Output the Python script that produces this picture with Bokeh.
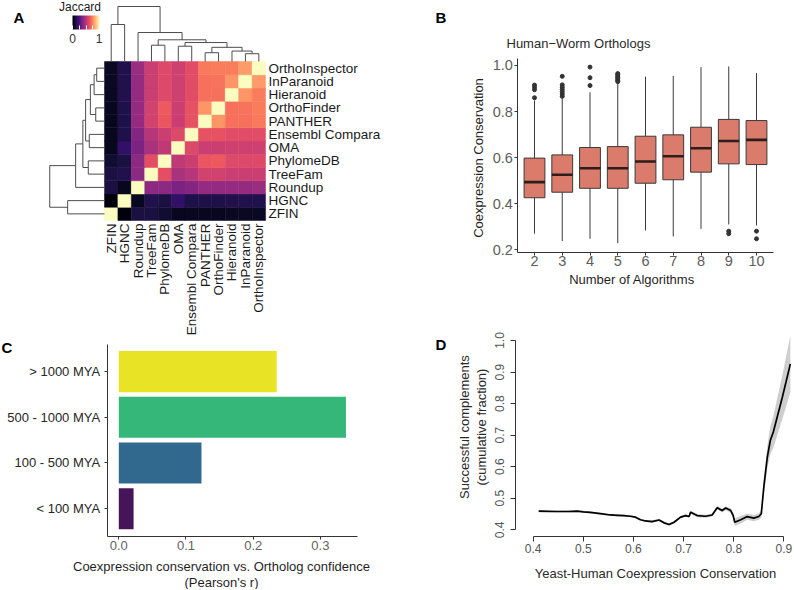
import numpy as np
from bokeh.plotting import figure
from bokeh.layouts import row, column
from bokeh.models import (Range1d, FixedTicker, ColorBar, LinearColorMapper, Label,
                          ColumnDataSource, PrintfTickFormatter)
from bokeh.palettes import Magma256
from bokeh.embed import file_html
from bokeh.resources import INLINE

FONT = "Liberation Sans"

# ---------------- Panel A data ----------------
methods = ["ZFIN", "HGNC", "Roundup", "TreeFam", "PhylomeDB", "OMA", "Ensembl Compara",
           "PANTHER", "OrthoFinder", "Hieranoid", "InParanoid", "OrthoInspector"]
jaccard = [
    [1.00, 0.02, 0.12, 0.12, 0.09, 0.06, 0.06, 0.06, 0.06, 0.07, 0.07, 0.07],
    [0.02, 1.00, 0.06, 0.14, 0.12, 0.18, 0.13, 0.13, 0.13, 0.14, 0.14, 0.14],
    [0.12, 0.06, 1.00, 0.40, 0.40, 0.36, 0.38, 0.42, 0.42, 0.42, 0.42, 0.43],
    [0.12, 0.14, 0.40, 1.00, 0.62, 0.47, 0.50, 0.57, 0.57, 0.55, 0.55, 0.55],
    [0.09, 0.12, 0.40, 0.62, 1.00, 0.52, 0.55, 0.64, 0.65, 0.60, 0.60, 0.60],
    [0.06, 0.18, 0.36, 0.47, 0.52, 1.00, 0.60, 0.55, 0.55, 0.56, 0.56, 0.56],
    [0.06, 0.13, 0.38, 0.50, 0.55, 0.60, 1.00, 0.63, 0.63, 0.61, 0.61, 0.61],
    [0.06, 0.13, 0.42, 0.57, 0.64, 0.55, 0.63, 1.00, 0.78, 0.70, 0.70, 0.72],
    [0.06, 0.13, 0.42, 0.57, 0.65, 0.55, 0.63, 0.78, 1.00, 0.70, 0.71, 0.73],
    [0.07, 0.14, 0.42, 0.55, 0.60, 0.56, 0.61, 0.70, 0.70, 1.00, 0.78, 0.73],
    [0.07, 0.14, 0.42, 0.55, 0.60, 0.56, 0.61, 0.70, 0.71, 0.78, 1.00, 0.79],
    [0.07, 0.14, 0.43, 0.55, 0.60, 0.56, 0.61, 0.72, 0.73, 0.73, 0.79, 1.00],
]
# hierarchical clustering merges: (child a, child b, relative height)
merges = [(10, 11, 0.142), (9, 12, 0.190), (7, 8, 0.160), (14, 13, 0.258),
          (5, 6, 0.278), (3, 4, 0.296), (16, 15, 0.345), (17, 18, 0.395),
          (2, 19, 0.527), (0, 1, 0.673), (21, 20, 1.000)]

# ---------------- Panel B data ----------------
b_alg = [2, 3, 4, 5, 6, 7, 8, 9, 10]
b_q1 = [0.426, 0.450, 0.467, 0.467, 0.489, 0.504, 0.537, 0.573, 0.570]
b_med = [0.494, 0.526, 0.554, 0.554, 0.583, 0.606, 0.641, 0.672, 0.677]
b_q3 = [0.598, 0.612, 0.644, 0.648, 0.693, 0.699, 0.732, 0.766, 0.761]
b_lo = [0.270, 0.238, 0.248, 0.229, 0.284, 0.258, 0.291, 0.310, 0.306]
b_hi = [0.848, 0.858, 0.884, 0.928, 0.952, 0.955, 0.993, 0.996, 0.967]
b_out_alg = [2, 2, 2, 2, 3, 3, 3, 3, 3, 3, 3, 4, 4, 4,
             5, 5, 5, 5, 5, 5, 5, 9, 9, 10, 10]
b_out_val = [0.860, 0.895, 0.905, 0.915, 0.866, 0.876, 0.886, 0.896, 0.906, 0.916, 0.953,
             0.913, 0.947, 0.993,
             0.930, 0.936, 0.942, 0.948, 0.954, 0.960, 0.965, 0.270, 0.281, 0.248, 0.281]

# ---------------- Panel C data ----------------
age_groups = ["< 100 MYA", "100 - 500 MYA", "500 - 1000 MYA", "> 1000 MYA"]
age_corr = [0.022, 0.123, 0.338, 0.235]
age_colors = ["#461558", "#31688E", "#35B779", "#E8E325"]

# ---------------- Panel D data ----------------
d_x = [0.411, 0.445, 0.470, 0.488, 0.500, 0.514, 0.534, 0.554, 0.568, 0.581, 0.594, 0.604,
       0.614, 0.624, 0.637, 0.651, 0.661, 0.671, 0.681, 0.694, 0.704, 0.711, 0.714, 0.727,
       0.744, 0.757, 0.767, 0.777, 0.784, 0.794, 0.799, 0.802, 0.814, 0.827, 0.840, 0.850,
       0.855, 0.860, 0.867, 0.873, 0.879, 0.897, 0.913]
d_y = [0.459, 0.458, 0.458, 0.459, 0.457, 0.455, 0.451, 0.447, 0.446, 0.445, 0.443, 0.440,
       0.432, 0.428, 0.426, 0.431, 0.422, 0.417, 0.424, 0.440, 0.445, 0.442, 0.456, 0.445,
       0.443, 0.447, 0.470, 0.461, 0.469, 0.461, 0.445, 0.424, 0.432, 0.442, 0.437, 0.442,
       0.451, 0.535, 0.630, 0.683, 0.710, 0.820, 0.926]
d_band = [0.004, 0.003, 0.003, 0.003, 0.003, 0.003, 0.003, 0.003, 0.003, 0.003, 0.003, 0.003,
          0.003, 0.003, 0.004, 0.004, 0.004, 0.004, 0.004, 0.004, 0.004, 0.004, 0.005, 0.005,
          0.005, 0.005, 0.006, 0.006, 0.006, 0.007, 0.008, 0.012, 0.012, 0.010, 0.010, 0.010,
          0.012, 0.025, 0.035, 0.045, 0.050, 0.070, 0.090]


def make_fig(w, h, xr, yr, xloc="below", yloc="left"):
    p = figure(width=w, height=h, x_range=Range1d(*xr), y_range=Range1d(*yr),
               min_border=0, min_border_left=0, min_border_right=0, min_border_top=0,
               min_border_bottom=0, x_axis_location=xloc, y_axis_location=yloc,
               output_backend="svg", toolbar_location=None)
    p.grid.visible = False
    p.outline_line_color = None
    p.background_fill_color = "white"
    p.border_fill_color = "white"
    return p


def style_axis(ax, size, color, tick_out, standoff, line_color="#333333"):
    ax.axis_line_color = line_color
    ax.major_tick_line_color = line_color
    ax.minor_tick_line_color = None
    ax.major_tick_in = 0
    ax.major_tick_out = tick_out
    ax.major_label_text_font = FONT
    ax.major_label_text_font_size = size
    ax.major_label_text_color = color
    ax.major_label_standoff = standoff


def text(p, sx, sy, t, size="13px", color="#222222", align="left", baseline="middle",
         angle=0.0, bold=False):
    p.add_layout(Label(x=sx, y=sy, x_units="screen", y_units="screen", text=t,
                       angle=angle, text_font=FONT, text_font_size=size,
                       text_font_style="bold" if bold else "normal", text_color=color,
                       text_align=align, text_baseline=baseline))


# =============== Panel A  (page box x 0..400, y 0..337) ===============
n = len(methods)
mapper = LinearColorMapper(palette=Magma256, low=0, high=1)
cx, cy, cv = [], [], []
for i in range(n):
    for j in range(n):
        cx.append(j + 0.5)
        cy.append(i + 0.5)
        cv.append(jaccard[i][j])
srcA = ColumnDataSource(dict(x=cx, y=cy, v=cv))

pA = make_fig(400, 337, (-7.7496, 22.0566), (-8.830, 16.604), "below", "right")
pA.rect(x="x", y="y", width=1, height=1, source=srcA,
        fill_color={"field": "v", "transform": mapper},
        line_color={"field": "v", "transform": mapper}, line_width=0.5)

pos = {i: i + 0.5 for i in range(n)}
hgt = {i: 0.0 for i in range(n)}
segs = []
for k, (a, b, h) in enumerate(merges):
    segs.append((pos[a], hgt[a], pos[a], h))
    segs.append((pos[b], hgt[b], pos[b], h))
    segs.append((pos[a], h, pos[b], h))
    pos[n + k] = (pos[a] + pos[b]) / 2
    hgt[n + k] = h
TOP_DEPTH = 4.15
LEFT_DEPTH = 4.08
pA.multi_line(xs=[[s[0], s[2]] for s in segs],
              ys=[[n + s[1] * TOP_DEPTH, n + s[3] * TOP_DEPTH] for s in segs],
              line_color="#4d4d4d", line_width=1)
pA.multi_line(xs=[[-s[1] * LEFT_DEPTH, -s[3] * LEFT_DEPTH] for s in segs],
              ys=[[s[0], s[2]] for s in segs],
              line_color="#4d4d4d", line_width=1)

ticks = [i + 0.5 for i in range(n)]
for ax in (pA.xaxis[0], pA.yaxis[0]):
    ax.ticker = FixedTicker(ticks=ticks)
    ax.major_label_overrides = {t: m for t, m in zip(ticks, methods)}
    style_axis(ax, "13.5px", "#1a1a1a", 0, 3, line_color=None)
    ax.bounds = (0, n)
pA.xaxis.fixed_location = 0
pA.yaxis.fixed_location = n
pA.xaxis.major_label_orientation = np.pi / 2

cbar = ColorBar(color_mapper=mapper, orientation="horizontal", width=27, height=14,
                ticker=FixedTicker(ticks=[0, 0.25, 0.5, 0.75, 1]),
                major_label_overrides={0: "", 0.25: "", 0.5: "", 0.75: "", 1: ""},
                major_label_text_font_size="1px",
                major_tick_line_color="white", major_tick_in=4, major_tick_out=0,
                minor_tick_line_color=None, bar_line_color=None, border_line_color=None,
                background_fill_alpha=0, padding=0, margin=0, label_standoff=0,
                location=(72, 308))
pA.add_layout(cbar)
text(pA, 79.5, 330.3, "Jaccard", size="12px", color="#1a1a1a", align="center")
text(pA, 72, 299.5, "0", size="12px", color="#333333", align="center")
text(pA, 98.5, 299.5, "1", size="12px", color="#333333", align="center")
text(pA, 13, 329, "A", size="15px", color="black", baseline="top", bold=True)

# =============== Panel B  (page box x 400..793, y 0..300) ===============
pB = make_fig(393, 300, (-2.8288, 11.3333), (-0.0200, 1.2821))
alg = np.array(b_alg, dtype=float)
pB.segment(x0=alg, y0=b_q3, x1=alg, y1=b_hi, line_color="#3a3a3a", line_width=1)
pB.segment(x0=alg, y0=b_q1, x1=alg, y1=b_lo, line_color="#3a3a3a", line_width=1)
pB.vbar(x=alg, width=0.75, bottom=b_q1, top=b_q3, fill_color="#DA7B6B",
        line_color="#3a3a3a", line_width=1)
pB.segment(x0=alg - 0.375, y0=b_med, x1=alg + 0.375, y1=b_med, line_color="#2e1d1a",
           line_width=2.6)
pB.scatter(x=b_out_alg, y=b_out_val, size=4, fill_color="#333333", line_color="#333333")

pB.xaxis.ticker = FixedTicker(ticks=b_alg)
pB.yaxis.ticker = FixedTicker(ticks=[0.2, 0.4, 0.6, 0.8, 1.0])
pB.yaxis.formatter = PrintfTickFormatter(format="%.1f")
style_axis(pB.xaxis[0], "14.5px", "#5c5c5c", 3, 1)
style_axis(pB.yaxis[0], "14.5px", "#5c5c5c", 3, 2)
pB.xaxis.fixed_location = 0.1896
pB.yaxis.fixed_location = 1.4
pB.xaxis.bounds = (1.4, 10.6)
pB.yaxis.bounds = (0.1896, 1.030)
text(pB, 106, 257.5, "Human\u2212Worm Orthologs", color="#2a2a2a")
text(pB, 35, 292, "B", size="15px", color="black", baseline="top", bold=True)
text(pB, 231.5, 21, "Number of Algorithms", color="#1f1f1f", align="center")
text(pB, 77.5, 142.5, "Coexpression Conservation", color="#1f1f1f", align="center",
     angle=np.pi / 2)

# =============== Panel C  (page box x 0..400, y 337..589) ===============
pC = make_fig(400, 252, (-0.17604, 0.41920), (-0.768, 4.746))
ypos = list(range(1, len(age_groups) + 1))
pC.hbar(y=ypos, left=0, right=age_corr, height=0.9, fill_color=age_colors, line_color=None)
pC.yaxis.ticker = FixedTicker(ticks=ypos)
pC.yaxis.major_label_overrides = {k: g for k, g in zip(ypos, age_groups)}
pC.xaxis.ticker = FixedTicker(ticks=[0.0, 0.1, 0.2, 0.3])
pC.xaxis.formatter = PrintfTickFormatter(format="%.1f")
style_axis(pC.yaxis[0], "13px", "#262626", 3, 4)
style_axis(pC.xaxis[0], "13px", "#636363", 3, 2)
pC.yaxis.fixed_location = -0.0173
pC.xaxis.fixed_location = 0.4
pC.yaxis.bounds = (0.4, 4.6)
pC.xaxis.bounds = (-0.0173, 0.3548)
text(pC, 221, 23, "Coexpression conservation vs. Ortholog confidence", color="#1f1f1f",
     align="center")
text(pC, 221, 7.5, "(Pearson's r)", color="#1f1f1f", align="center")
text(pC, 1, 251, "C", size="15px", color="black", baseline="top", bold=True)

# =============== Panel D  (page box x 400..793, y 300..589) ===============
pD = make_fig(393, 289, (0.13529, 0.91925), (0.21078, 1.12678))
dy = np.array(d_y)
db = np.array(d_band)
pD.varea(x=d_x, y1=dy - db, y2=dy + db, fill_color="#C9C9C9", fill_alpha=0.9)
pD.line(x=d_x, y=d_y, line_color="black", line_width=1.7)
pD.xaxis.ticker = FixedTicker(ticks=[0.4, 0.5, 0.6, 0.7, 0.8, 0.9])
pD.yaxis.ticker = FixedTicker(ticks=[0.4, 0.5, 0.6, 0.7, 0.8, 0.9, 1.0])
pD.xaxis.formatter = PrintfTickFormatter(format="%.1f")
pD.yaxis.formatter = PrintfTickFormatter(format="%.1f")
style_axis(pD.xaxis[0], "12px", "#555555", 5, 3)
style_axis(pD.yaxis[0], "12px", "#555555", 5, 6)
pD.yaxis.major_label_orientation = "parallel"
pD.xaxis.fixed_location = 0.37971
pD.yaxis.fixed_location = 0.36469
pD.xaxis.bounds = (0.4, 0.9)
pD.yaxis.bounds = (0.4, 1.0)
text(pD, 255, 16, "Yeast-Human Coexpression Conservation", color="#2a2a2a", align="center")
text(pD, 64, 162.4, "Successful complements", color="#2a2a2a", align="center",
     angle=np.pi / 2)
text(pD, 81, 162.4, "(cumulative fraction)", color="#2a2a2a", align="center",
     angle=np.pi / 2)
text(pD, 35, 254, "D", size="15px", color="black", baseline="top", bold=True)

layout = row(column(pA, pC), column(pB, pD))
open("out.html", "w").write(file_html(layout, INLINE))
